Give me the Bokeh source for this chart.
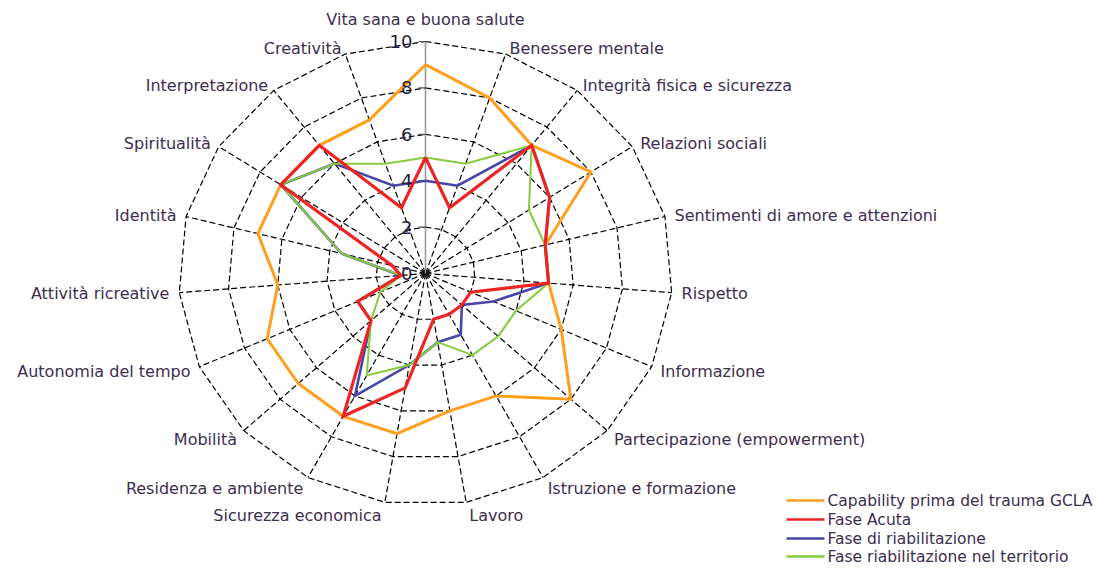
import numpy as np
from bokeh.plotting import figure
from bokeh.models import ColumnDataSource
from bokeh.core.properties import value
from bokeh.embed import file_html
from bokeh.resources import INLINE

# ---------------- data ----------------
categories = [
    "Vita sana e buona salute", "Benessere mentale", "Integrità fisica e sicurezza",
    "Relazioni sociali", "Sentimenti di amore e attenzioni", "Rispetto", "Informazione",
    "Partecipazione (empowerment)", "Istruzione e formazione", "Lavoro",
    "Sicurezza economica", "Residenza e ambiente", "Mobilità", "Autonomia del tempo",
    "Attività ricreative", "Identità", "Spiritualità", "Interpretazione", "Creatività",
]
capability_prima = [9, 8, 7, 8, 5, 5, 6, 8, 6, 6, 7, 7, 7, 7, 6, 7, 7, 7, 7]
fase_acuta = [5, 3, 7, 6, 5, 5, 2, 2, 2, 2, 5, 7, 3, 3, 1, 1.4, 7, 7, 3]
fase_riabilitazione = [4, 4, 7, 6, 5, 5, 3, 2, 3, 3, 4, 6, 3, 3, 1, 3.5, 7, 6, 4]
fase_territorio = [5, 5, 7, 5, 5, 5, 4, 4, 4, 3, 4, 5, 3, 2, 1, 3.5, 7, 6, 5]
series_names = [
    "Capability prima del trauma GCLA", "Fase Acuta",
    "Fase di riabilitazione", "Fase riabilitazione nel territorio",
]
tick_values = [0, 2, 4, 6, 8, 10]

# ---------------- geometry ----------------
W, H = 1100, 564
CX, CY = 425, 273          # centre in pixels
SX, SY = 24.7, 23.2        # pixels per unit (x, y)
RMAX = 10

def px(xpix):
    return (xpix - CX) / SX

def py(ypix):
    return (CY - ypix) / SY

N = len(categories)
theta = 2 * np.pi * np.arange(N) / N
s, c = np.sin(theta), np.cos(theta)

p = figure(width=W, height=H, x_range=(px(0), px(W)), y_range=(py(H), py(0)),
           output_backend="svg", toolbar_location=None,
           x_axis_location=None, y_axis_location=None, min_border=0,
           outline_line_color=None, background_fill_color="white")
p.grid.visible = False

# rings
ring_x, ring_y = [], []
for r in tick_values[1:]:
    ring_x.append(list(np.append(r * s, r * s[0])))
    ring_y.append(list(np.append(r * c, r * c[0])))
p.multi_line(ring_x, ring_y, line_color="black", line_width=1.2, line_dash="6 3")

# spokes
sp_x = [[0, RMAX * s[i]] for i in range(1, N)]
sp_y = [[0, RMAX * c[i]] for i in range(1, N)]
p.multi_line(sp_x, sp_y, line_color="black", line_width=1.2, line_dash="6 3")
# value axis
p.line([0, 0], [0, RMAX], line_color="#9a9a9a", line_width=1.6)
p.multi_line([[px(CX - 7), 0] for t in tick_values[1:]], [[t, t] for t in tick_values[1:]],
             line_color="#555555", line_width=1.2)

# series
colors = ["#ff9f1c", "#ee2424", "#4646a8", "#86cc3c"]
widths = [3.0, 3.2, 2.6, 2.0]
series = [capability_prima, fase_acuta, fase_riabilitazione, fase_territorio]
draw_order = [0, 2, 3, 1]
for k in draw_order:
    v = np.array(series[k], dtype=float)
    xs = np.append(v * s, v[0] * s[0])
    ys = np.append(v * c, v[0] * c[0])
    p.line(xs, ys, line_color=colors[k], line_width=widths[k], line_join="miter")

# category labels
lx, ly, la = [], [], []
for i in range(N):
    if abs(s[i]) < 0.05:
        dx, align = 0, "center"
    elif s[i] > 0:
        dx, align = 3 + 7 * s[i] ** 2, "left"
    else:
        dx, align = -(3 + 7 * s[i] ** 2), "right"
    if i == 0:
        dy_up = 22
    elif c[i] > 0:
        dy_up = 6 * c[i]
    else:
        dy_up = 13 * c[i]
    lx.append(RMAX * s[i] + dx / SX)
    ly.append(RMAX * c[i] + dy_up / SY)
    la.append(align)
lsrc = ColumnDataSource(dict(x=lx, y=ly, text=categories, align=la))
p.text("x", "y", text="text", source=lsrc, text_align="align", text_baseline="middle",
       text_font=value("DejaVu Sans"), text_font_size="16px", text_color="#3d2d4f")

# tick labels
tsrc = ColumnDataSource(dict(x=[px(CX - 13)] * len(tick_values), y=tick_values,
                             text=[str(t) for t in tick_values]))
p.text("x", "y", text="text", source=tsrc, text_align="right", text_baseline="middle",
       text_font=value("DejaVu Sans"), text_font_size="18px", text_color="#1e1e3c")

# legend (manual)
rows = [500, 519, 538, 556]
for k in range(4):
    yv = py(rows[k])
    p.line([px(786), px(824)], [yv, yv], line_color=colors[k], line_width=2.6)
legsrc = ColumnDataSource(dict(x=[px(827)] * 4, y=[py(r) for r in rows], text=series_names))
p.text("x", "y", text="text", source=legsrc, text_align="left", text_baseline="middle",
       text_font=value("DejaVu Sans"), text_font_size="15.5px", text_color="#3d2d4f")

open("out.html", "w").write(file_html(p, INLINE))
